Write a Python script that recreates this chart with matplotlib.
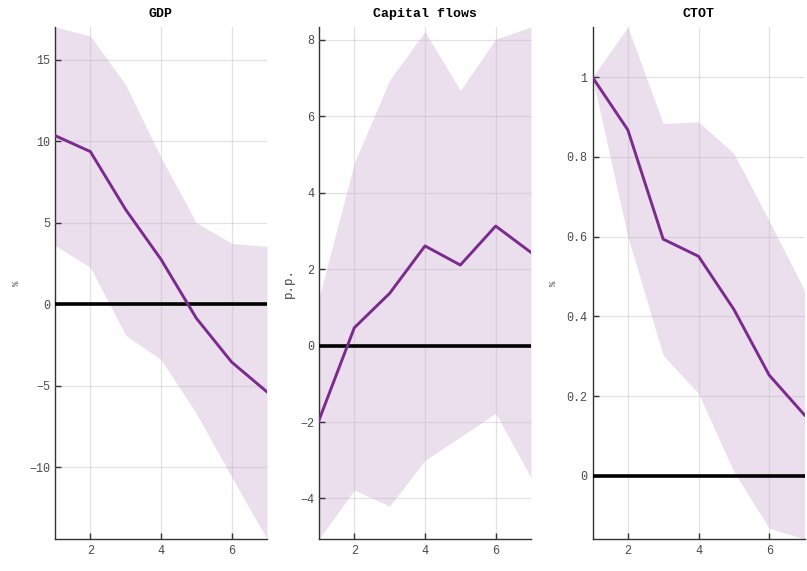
import matplotlib
matplotlib.use("Agg")
import matplotlib.pyplot as plt
import numpy as np

horizon = [1, 2, 3, 4, 5, 6, 7]

titles = ["GDP", "Capital flows", "CTOT"]
units = ["%", "p.p.", "%"]

gdp_mean = [10.34, 9.36, 5.80, 2.75, -0.86, -3.55, -5.38]
gdp_upper = [17.0, 16.45, 13.45, 9.0, 5.0, 3.73, 3.55]
gdp_lower = [3.6, 2.26, -1.9, -3.4, -6.7, -10.6, -14.4]

cap_mean = [-1.95, 0.47, 1.37, 2.61, 2.11, 3.13, 2.44]
cap_upper = [1.25, 4.78, 6.95, 8.22, 6.68, 8.02, 8.34]
cap_lower = [-5.06, -3.78, -4.2, -3.0, -2.39, -1.77, -3.45]

ctot_mean = [1.0, 0.868, 0.594, 0.551, 0.418, 0.253, 0.153]
ctot_upper = [1.0, 1.126, 0.884, 0.888, 0.809, 0.64, 0.466]
ctot_lower = [1.0, 0.60, 0.303, 0.207, 0.011, -0.131, -0.158]

gdp_ticks = [-10, -5, 0, 5, 10, 15]
cap_ticks = [-4, -2, 0, 2, 4, 6, 8]
ctot_ticks = [0, 0.2, 0.4, 0.6, 0.8, 1]
ctot_ticklabels = ["0", "0.2", "0.4", "0.6", "0.8", "1"]
x_ticks = [2, 4, 6]

series = [
    (gdp_mean, gdp_lower, gdp_upper, gdp_ticks, None),
    (cap_mean, cap_lower, cap_upper, cap_ticks, None),
    (ctot_mean, ctot_lower, ctot_upper, ctot_ticks, ctot_ticklabels),
]

mono = "Liberation Mono"
line_color = "#7B2A8E"
band_color = "#EBDFEE"

fig = plt.figure(figsize=(8.07, 5.71), dpi=100)
lefts = [55 / 807, 319 / 807, 592.5 / 807]
width = 212 / 807
bottom = 1 - 539 / 571
height = (539 - 27) / 571

ylab_x = [-0.18, -0.14, -0.185]

for i, (mean, lo, hi, yt, ytl) in enumerate(series):
    ax = fig.add_axes([lefts[i], bottom, width, height])
    ax.fill_between(horizon, lo, hi, color=band_color, lw=0, zorder=1)
    ax.axhline(0, color="black", lw=2.6, zorder=3)
    ax.plot(horizon, mean, color=line_color, lw=2.1, zorder=4)
    ax.set_xlim(1, 7)
    ax.set_ylim(min(lo), max(hi))
    ax.set_xticks(x_ticks)
    ax.set_yticks(yt)
    if ytl is not None:
        ax.set_yticklabels(ytl)
    ax.grid(True, color="#bdb6c0", alpha=0.4, lw=0.9, zorder=2)
    ax.set_axisbelow(False)
    for s in ["top", "right"]:
        ax.spines[s].set_visible(False)
    for s in ["left", "bottom"]:
        ax.spines[s].set_color("#333333")
        ax.spines[s].set_linewidth(1.0)
    ax.tick_params(direction="in", length=4, width=1, color="#333333",
                   labelcolor="#4a4a4a", labelsize=8.5)
    ax.tick_params(axis="x", pad=4)
    for lab in ax.get_xticklabels() + ax.get_yticklabels():
        lab.set_fontfamily(mono)
    ax.set_title(titles[i], fontfamily=mono, fontweight="bold", fontsize=9.5,
                 pad=7)
    ax.text(ylab_x[i], 0.5, units[i], transform=ax.transAxes, rotation=90,
            ha="center", va="center", fontfamily=mono,
            fontsize=6.5 if units[i] == "%" else 9, color="#444444")

fig.savefig("out.png", dpi=100)
